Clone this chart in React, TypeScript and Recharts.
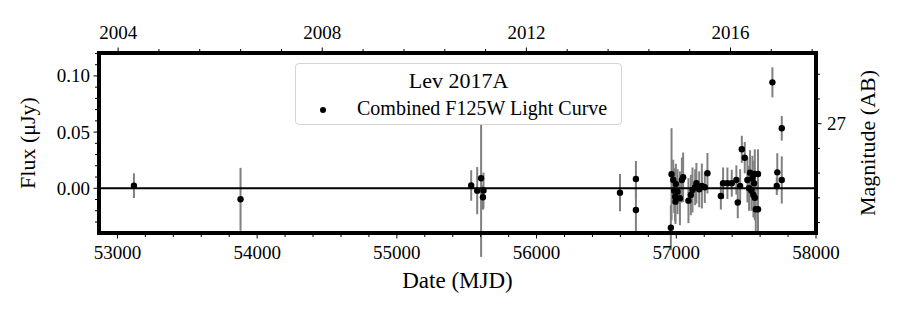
import React from "react";
import { ScatterChart, Scatter, XAxis, YAxis, ErrorBar, ReferenceLine } from "recharts";

// Combined F125W light curve (MJD, flux in μJy, 1σ error)
const mjd = [
  53118, 53881, 55532, 55575, 55603, 55616, 55620, 56597, 56711, 56711,
  56961, 56966, 56978, 56985, 56992, 56994, 56997, 57009, 57026, 57040,
  57049, 57087, 57104, 57116, 57135, 57144, 57164, 57183, 57204, 57223,
  57319, 57335, 57366, 57397, 57430, 57440, 57457, 57469, 57490, 57509,
  57521, 57528, 57538, 57545, 57552, 57557, 57562, 57562, 57569, 57585,
  57585, 57688, 57719, 57723, 57755, 57755,
];
const flux = [
  0.0023, -0.0098, 0.0025, -0.0021, 0.0089, -0.008, -0.002, -0.0039, 0.0083, -0.0193,
  -0.0351, 0.0125, 0.0074, -0.0021, -0.0075, -0.0119, 0.0038, -0.003, -0.0089, 0.0074,
  0.0098, -0.011, -0.006, -0.0015, 0.0009, 0.0045, -0.0009, 0.002, 0.0009, 0.0134,
  -0.0069, 0.0045, 0.0045, 0.0045, 0.0074, -0.0127, 0.002, 0.0347, 0.0272, 0.0074,
  0.0, 0.0139, -0.0021, 0.0089, -0.006, 0.0045, 0.0127, -0.0084, -0.0187, 0.0127,
  -0.0187, 0.0943, 0.002, 0.0142, 0.0534, 0.0074,
];
const fluxErr = [
  0.011, 0.028, 0.0136, 0.021, 0.07, 0.011, 0.016, 0.0166, 0.016, 0.022,
  0.02, 0.041, 0.018, 0.02, 0.022, 0.02, 0.018, 0.02, 0.024, 0.02,
  0.022, 0.02, 0.018, 0.02, 0.016, 0.018, 0.016, 0.02, 0.014, 0.018,
  0.012, 0.014, 0.014, 0.012, 0.013, 0.014, 0.015, 0.012, 0.014, 0.02,
  0.02, 0.02, 0.018, 0.02, 0.02, 0.02, 0.022, 0.02, 0.022, 0.022,
  0.02, 0.0134, 0.008, 0.017, 0.011, 0.021,
];

const mjdMajor = [53000, 54000, 55000, 56000, 57000, 58000];
const mjdMinor = [
  53200, 53400, 53600, 53800, 54200, 54400, 54600, 54800, 55200, 55400, 55600, 55800,
  56200, 56400, 56600, 56800, 57200, 57400, 57600, 57800,
];
const yearLabels = ["2004", "2008", "2012", "2016"];
const yearMjd = [53005, 54466, 55927, 57388];
const yearMinorMjd = [
  53297, 53589, 53882, 54174, 54758, 55051, 55343, 55635, 56219, 56512, 56804, 57096, 57680, 57972,
];
const fluxMajor = [0.0, 0.05, 0.1];
const fluxMinor = [-0.03, -0.02, -0.01, 0.01, 0.02, 0.03, 0.04, 0.06, 0.07, 0.08, 0.09, 0.11, 0.12];
// right axis: AB magnitude 27 ↔ 0.0575 μJy, plus minor ticks
const magTickFlux = [0.0575];
const magTickLabels = ["27"];
const magMinorFlux = [0.1015, 0.0795, 0.0355, 0.0135, -0.0085, -0.0305];

const data = mjd.map((m, i) => ({ mjd: m, flux: flux[i], err: fluxErr[i] }));

const FONT = '"Liberation Serif", "DejaVu Serif", serif';
const FRAME = 4;
const PLOT_TOP = 53;

const BottomTick = (p: any) => {
  const v = p.payload.value;
  const major = mjdMajor.includes(v);
  const y0 = p.y + FRAME / 2;
  return (
    <g>
      <line x1={p.x} x2={p.x} y1={y0} y2={y0 + (major ? 3.5 : 2)} stroke="#000" strokeWidth={1} />
      {major && (
        <text x={p.x} y={p.y + 26} textAnchor="middle" fontFamily={FONT} fontSize={19} fill="#000">
          {v}
        </text>
      )}
    </g>
  );
};

const TopTick = (p: any) => {
  const v = Number(p.payload.value);
  const idx = yearMjd.findIndex((m) => Math.abs(m - v) < 1);
  const y0 = PLOT_TOP - FRAME / 2;
  return (
    <g>
      <line x1={p.x} x2={p.x} y1={y0} y2={y0 - (idx >= 0 ? 3.5 : 2)} stroke="#000" strokeWidth={1} />
      {idx >= 0 && (
        <text x={p.x} y={PLOT_TOP - 14} textAnchor="middle" fontFamily={FONT} fontSize={19} fill="#000">
          {yearLabels[idx]}
        </text>
      )}
    </g>
  );
};

const LeftTick = (p: any) => {
  const v = p.payload.value;
  const major = fluxMajor.some((f) => Math.abs(f - v) < 1e-9);
  const x0 = p.x - FRAME / 2;
  return (
    <g>
      <line x1={x0} x2={x0 - (major ? 3.5 : 2)} y1={p.y} y2={p.y} stroke="#000" strokeWidth={1} />
      {major && (
        <text x={p.x - 9} y={p.y + 6.5} textAnchor="end" fontFamily={FONT} fontSize={19} fill="#000">
          {v.toFixed(2)}
        </text>
      )}
    </g>
  );
};

const RightTick = (p: any) => {
  const v = p.payload.value;
  const idx = magTickFlux.findIndex((f) => Math.abs(f - v) < 1e-9);
  const x0 = p.x + FRAME / 2;
  return (
    <g>
      <line x1={x0} x2={x0 + (idx >= 0 ? 3.5 : 2)} y1={p.y} y2={p.y} stroke="#000" strokeWidth={1} />
      {idx >= 0 && (
        <text x={p.x + 11} y={p.y + 6.5} textAnchor="start" fontFamily={FONT} fontSize={19} fill="#000">
          {magTickLabels[idx]}
        </text>
      )}
    </g>
  );
};

const Dot = (p: any) => <circle cx={p.cx} cy={p.cy} r={3.2} fill="#000" />;

const frameLine = { stroke: "#000", strokeWidth: FRAME, strokeLinecap: "square" as const };

const vLabel = (text: string, dxFromAxis: (vb: any) => number) => (lp: any) => {
  const cx = dxFromAxis(lp.viewBox);
  const cy = lp.viewBox.y + lp.viewBox.height / 2;
  return (
    <text
      x={cx}
      y={cy}
      transform={`rotate(-90 ${cx} ${cy})`}
      textAnchor="middle"
      dominantBaseline="central"
      fontFamily={FONT}
      fontSize={22}
      fill="#000"
    >
      {text}
    </text>
  );
};

export default function App() {
  return (
    <div style={{ position: "absolute", left: 0, top: 0, width: 900, height: 315, background: "#fff" }}>
      <ScatterChart width={900} height={315} margin={{ top: 0, right: 0, bottom: 0, left: 0 }}>
        <XAxis
          xAxisId="b"
          dataKey="mjd"
          type="number"
          domain={[52868, 58000]}
          allowDataOverflow
          ticks={[...mjdMajor, ...mjdMinor]}
          interval={0}
          height={82}
          tickSize={0}
          tickMargin={0}
          tickLine={false}
          axisLine={frameLine}
          tick={BottomTick}
          label={{
            content: (lp: any) => (
              <text
                x={lp.viewBox.x + lp.viewBox.width / 2}
                y={lp.viewBox.y + 55}
                textAnchor="middle"
                fontFamily={FONT}
                fontSize={23}
                fill="#000"
              >
                Date (MJD)
              </text>
            ),
          }}
        />
        <XAxis
          xAxisId="t"
          dataKey="mjd"
          orientation="top"
          type="number"
          domain={[52868, 58000]}
          allowDataOverflow
          ticks={[...yearMjd, ...yearMinorMjd]}
          interval={0}
          height={53}
          tickSize={0}
          tickMargin={0}
          tickLine={false}
          axisLine={frameLine}
          tick={TopTick}
        />
        <YAxis
          yAxisId="l"
          dataKey="flux"
          type="number"
          domain={[-0.0398, 0.1204]}
          allowDataOverflow
          ticks={[...fluxMajor, ...fluxMinor]}
          interval={0}
          width={99}
          tickSize={0}
          tickMargin={0}
          tickLine={false}
          axisLine={frameLine}
          tick={LeftTick}
          label={{ content: vLabel("Flux (μJy)", () => 27) }}
        />
        <YAxis
          yAxisId="r"
          orientation="right"
          type="number"
          domain={[-0.0398, 0.1204]}
          allowDataOverflow
          ticks={[...magTickFlux, ...magMinorFlux]}
          interval={0}
          width={84}
          tickSize={0}
          tickMargin={0}
          tickLine={false}
          axisLine={frameLine}
          tick={RightTick}
          label={{ content: vLabel("Magnitude (AB)", (vb) => vb.x + 51) }}
        />
        <Scatter
          xAxisId="b"
          yAxisId="l"
          data={data}
          dataKey="flux"
          shape={Dot}
          isAnimationActive={false}
        >
          <ErrorBar dataKey="err" direction="y" width={0} stroke="#808080" strokeWidth={2} isAnimationActive={false} />
        </Scatter>
        <Scatter
          xAxisId="t"
          yAxisId="r"
          data={data}
          dataKey="flux"
          shape={() => <g />}
          isAnimationActive={false}
        />
        <ReferenceLine xAxisId="b" yAxisId="l" y={0} stroke="#000" strokeWidth={2} />
      </ScatterChart>
      <div
        style={{
          position: "absolute",
          left: 295,
          top: 63,
          width: 327,
          height: 62,
          boxSizing: "border-box",
          border: "1px solid #d4d4d4",
          borderRadius: 4,
          background: "#fff",
          fontFamily: FONT,
          color: "#000",
        }}
      >
        <div
          style={{
            position: "absolute",
            left: 0,
            right: 0,
            top: 4,
            textAlign: "center",
            fontSize: 22,
            lineHeight: "26px",
          }}
        >
          Lev 2017A
        </div>
        <div
          style={{
            position: "absolute",
            left: 24,
            top: 43,
            width: 6,
            height: 6,
            borderRadius: 3,
            background: "#000",
          }}
        />
        <div
          style={{
            position: "absolute",
            left: 61,
            top: 32,
            fontSize: 20,
            lineHeight: "24px",
            whiteSpace: "nowrap",
          }}
        >
          Combined F125W Light Curve
        </div>
      </div>
    </div>
  );
}
